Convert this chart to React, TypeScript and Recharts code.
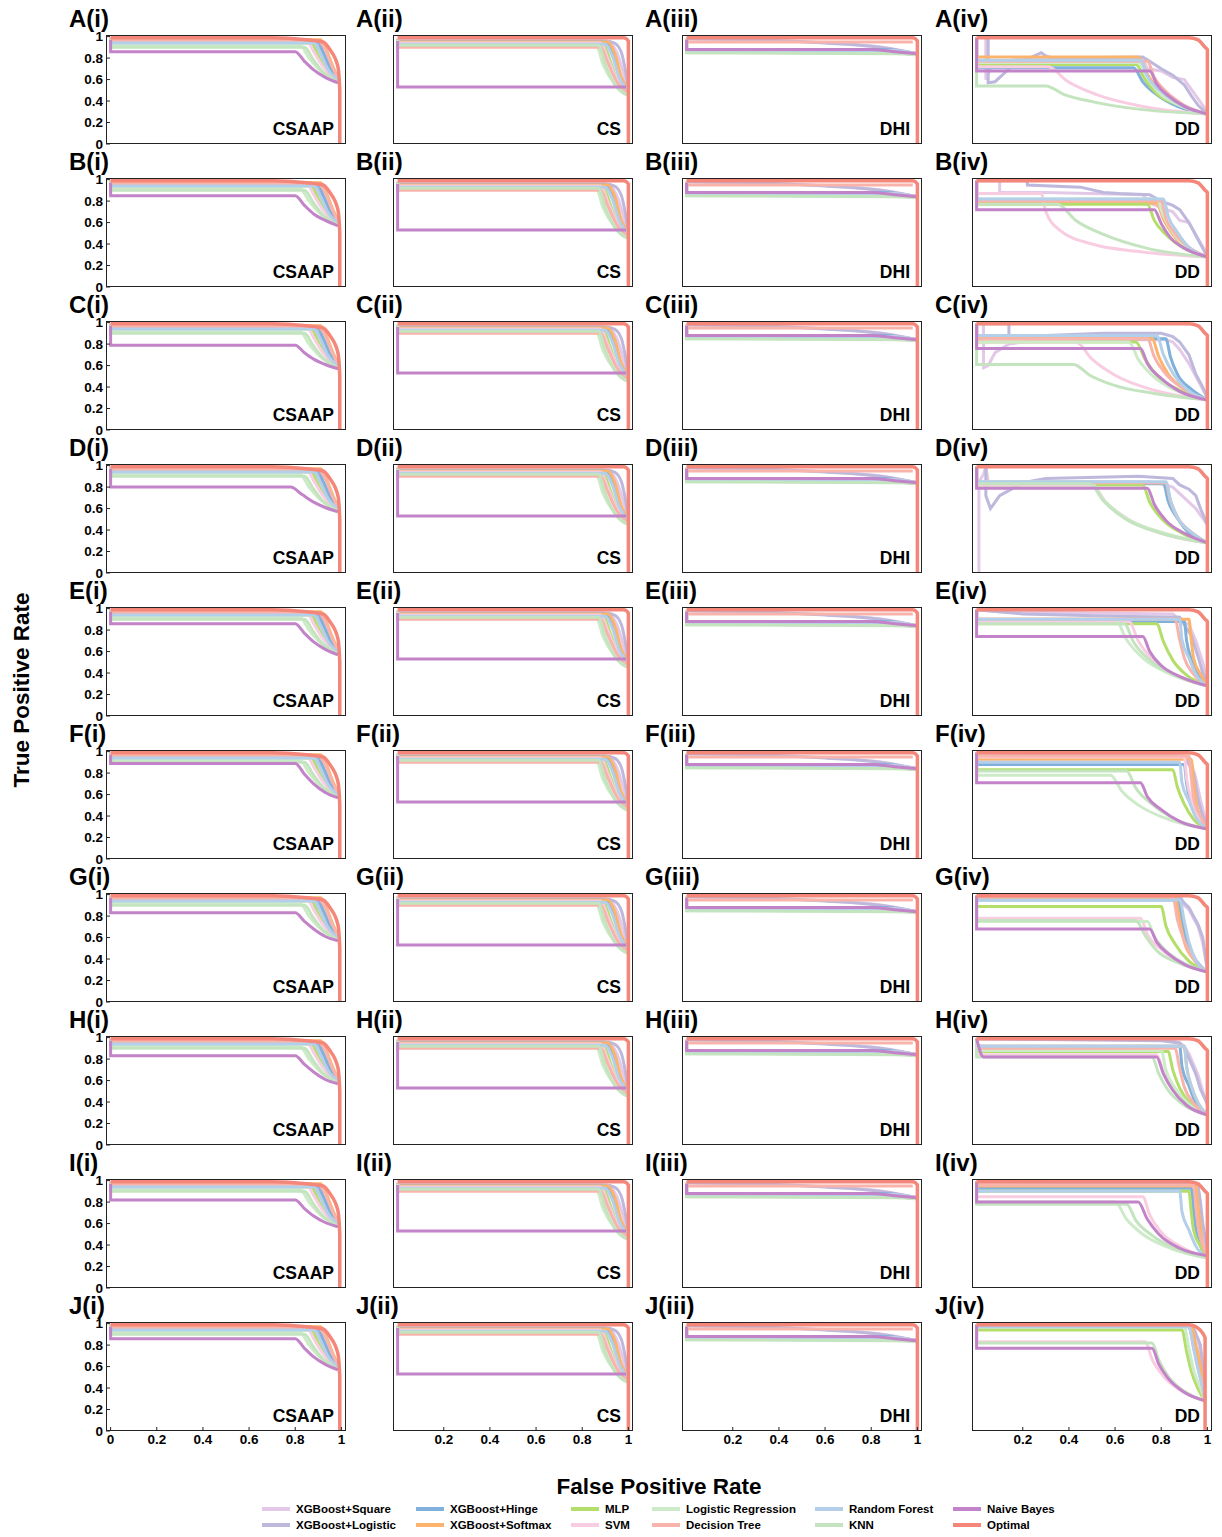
import { LineChart, Line, XAxis, YAxis } from 'recharts';

const FONT = 'Arial, "Liberation Sans", Helvetica, sans-serif';

const MODELS = [
  'XGBoost+Square', 'XGBoost+Logistic', 'XGBoost+Hinge', 'XGBoost+Softmax', 'MLP', 'SVM',
  'Logistic Regression', 'Decision Tree', 'Random Forest', 'KNN', 'Naive Bayes', 'Optimal',
];
const COLORS = [
  '#e3c8e7', '#bdb8dc', '#7fb1dc', '#fcb46c', '#b4de6a', '#f9cde1',
  '#cdebc8', '#f8b3aa', '#b4cfe9', '#c4e4bf', '#c283c9', '#f4867a',
];
const ROWS = ['A', 'B', 'C', 'D', 'E', 'F', 'G', 'H', 'I', 'J'];
const COLS = ['i', 'ii', 'iii', 'iv'];
const DATASETS = ['CSAAP', 'CS', 'DHI', 'DD'];
const Y_TICKS = [0, 0.2, 0.4, 0.6, 0.8, 1];
const X_TICKS_FIRST = [0, 0.2, 0.4, 0.6, 0.8, 1];
const X_TICKS_OTHER = [0.2, 0.4, 0.6, 0.8, 1];

type Pt = [number, number];

// ---- CSAAP column (shared pastel curves, per-row naive bayes)
const CSAAP_BASE: Pt[][] = [
  [[0, 0.99], [0, 0.97], [0.86, 0.97], [0.89, 0.93], [0.92, 0.84], [0.95, 0.72], [0.985, 0.6]],
  [[0, 0.99], [0, 0.96], [0.88, 0.96], [0.9, 0.9], [0.92, 0.82], [0.95, 0.7], [0.985, 0.6]],
  [[0, 0.98], [0, 0.95], [0.9, 0.95], [0.92, 0.86], [0.95, 0.72], [0.985, 0.6]],
  [[0, 0.98], [0, 0.97], [0.91, 0.97], [0.93, 0.9], [0.96, 0.74], [0.985, 0.61]],
  [[0, 0.98], [0, 0.94], [0.87, 0.94], [0.9, 0.82], [0.93, 0.7], [0.985, 0.59]],
  [[0, 0.98], [0, 0.96], [0.85, 0.96], [0.88, 0.86], [0.92, 0.72], [0.985, 0.6]],
  [[0, 0.98], [0, 0.92], [0.82, 0.92], [0.86, 0.8], [0.91, 0.68], [0.985, 0.58]],
  [[0, 0.99], [0, 0.96], [0.9, 0.96], [0.93, 0.88], [0.96, 0.72], [0.985, 0.62]],
  [[0, 0.98], [0, 0.94], [0.88, 0.94], [0.91, 0.84], [0.94, 0.7], [0.985, 0.6]],
  [[0, 0.98], [0, 0.9], [0.84, 0.9], [0.88, 0.78], [0.92, 0.67], [0.985, 0.58]],
];
const CSAAP_NB: Pt[][] = [
  [[0, 0.97], [0, 0.86], [0.8, 0.86], [0.84, 0.77], [0.88, 0.69], [0.93, 0.62], [0.985, 0.57]],
  [[0, 0.97], [0, 0.85], [0.8, 0.85], [0.84, 0.76], [0.88, 0.68], [0.93, 0.62], [0.985, 0.57]],
  [[0, 0.97], [0, 0.79], [0.8, 0.79], [0.84, 0.72], [0.88, 0.66], [0.93, 0.61], [0.985, 0.57]],
  [[0, 0.97], [0, 0.8], [0.78, 0.8], [0.83, 0.73], [0.88, 0.66], [0.93, 0.61], [0.985, 0.57]],
  [[0, 0.97], [0, 0.86], [0.8, 0.86], [0.84, 0.77], [0.88, 0.69], [0.93, 0.62], [0.985, 0.57]],
  [[0, 0.97], [0, 0.89], [0.8, 0.89], [0.84, 0.79], [0.88, 0.7], [0.93, 0.62], [0.985, 0.57]],
  [[0, 0.97], [0, 0.83], [0.8, 0.83], [0.84, 0.75], [0.88, 0.68], [0.93, 0.61], [0.985, 0.57]],
  [[0, 0.97], [0, 0.83], [0.8, 0.83], [0.84, 0.75], [0.88, 0.68], [0.93, 0.61], [0.985, 0.57]],
  [[0, 0.97], [0, 0.82], [0.8, 0.82], [0.84, 0.74], [0.88, 0.67], [0.93, 0.61], [0.985, 0.57]],
  [[0, 0.97], [0, 0.86], [0.8, 0.86], [0.84, 0.77], [0.88, 0.69], [0.93, 0.62], [0.985, 0.57]],
];
const OPT_CSAAP: Pt[] = [[0, 0.99], [0.7, 0.99], [0.85, 0.97], [0.92, 0.95], [0.95, 0.88], [0.985, 0.72], [0.993, 0.5], [0.993, 0]];

// ---- CS column
const CS_BASE: Pt[][] = [
  [[0, 0.98], [0, 0.96], [0.88, 0.96], [0.92, 0.94], [0.95, 0.85], [0.98, 0.65], [1, 0.5]],
  [[0, 0.98], [0, 0.96], [0.9, 0.96], [0.94, 0.94], [0.97, 0.85], [0.99, 0.65], [1, 0.52]],
  [[0, 0.97], [0, 0.95], [0.9, 0.95], [0.93, 0.85], [0.96, 0.65], [1, 0.5]],
  [[0, 0.97], [0, 0.95], [0.91, 0.95], [0.94, 0.85], [0.97, 0.62], [1, 0.5]],
  [[0, 0.97], [0, 0.93], [0.89, 0.93], [0.92, 0.78], [0.95, 0.6], [1, 0.48]],
  [[0, 0.97], [0, 0.94], [0.88, 0.94], [0.91, 0.8], [0.95, 0.6], [1, 0.48]],
  [[0, 0.97], [0, 0.92], [0.86, 0.92], [0.89, 0.74], [0.94, 0.56], [1, 0.46]],
  [[0, 0.97], [0, 0.9], [0.88, 0.9], [0.91, 0.76], [0.95, 0.58], [1, 0.48]],
  [[0, 0.97], [0, 0.93], [0.9, 0.93], [0.93, 0.82], [0.96, 0.62], [1, 0.5]],
  [[0, 0.97], [0, 0.92], [0.87, 0.92], [0.9, 0.74], [0.94, 0.56], [1, 0.45]],
];
const CS_NB: Pt[] = [[0, 0.96], [0, 0.53], [0.99, 0.53]];
const OPT_CS: Pt[] = [[0, 0.99], [0.98, 0.99], [1, 0.96], [1, 0]];

// ---- DHI column
const DHI_BASE: Pt[][] = [
  [[0, 0.98], [0.4, 0.96], [0.7, 0.93], [0.85, 0.9], [1, 0.84]],
  [[0, 0.98], [0.3, 0.97], [0.6, 0.94], [0.8, 0.91], [0.9, 0.88], [1, 0.84]],
  [[0, 0.98], [0, 0.88], [0.85, 0.88], [1, 0.84]],
  [[0, 0.98], [0, 0.87], [0.85, 0.87], [1, 0.84]],
  [[0, 0.97], [0, 0.86], [0.9, 0.86], [1, 0.84]],
  [[0, 0.97], [0, 0.88], [0.88, 0.87], [1, 0.84]],
  [[0, 0.97], [0, 0.85], [0.9, 0.85], [1, 0.84]],
  [[0, 0.97], [0, 0.95], [0.98, 0.95]],
  [[0, 0.97], [0, 0.87], [0.88, 0.87], [1, 0.84]],
  [[0, 0.97], [0, 0.85], [0.9, 0.84], [1, 0.83]],
];
const DHI_NB: Pt[] = [[0, 0.97], [0, 0.88], [0.8, 0.88], [0.9, 0.86], [1, 0.84]];

// ---- DD column, one list per row (Square .. Naive Bayes)
const DD_A: Pt[][] = [
  [[0.04, 0.99], [0.04, 0.6], [0.06, 0.7], [0.1, 0.76], [0.2, 0.8], [0.72, 0.8], [0.74, 0.7], [0.8, 0.68], [0.85, 0.62], [0.9, 0.6], [0.95, 0.45], [1, 0.3]],
  [[0.05, 0.99], [0.05, 0.57], [0.08, 0.58], [0.15, 0.72], [0.28, 0.85], [0.3, 0.82], [0.33, 0.8], [0.72, 0.81], [0.75, 0.77], [0.8, 0.7], [0.85, 0.64], [0.9, 0.55], [0.93, 0.45], [0.96, 0.36], [1, 0.28]],
  [[0, 0.99], [0, 0.71], [0.68, 0.71], [0.72, 0.58], [0.78, 0.46], [0.87, 0.35], [1, 0.28]],
  [[0, 0.99], [0, 0.81], [0.7, 0.81], [0.74, 0.65], [0.79, 0.5], [0.88, 0.37], [1, 0.28]],
  [[0, 0.99], [0, 0.74], [0.69, 0.74], [0.73, 0.6], [0.78, 0.47], [0.88, 0.36], [1, 0.28]],
  [[0, 0.99], [0, 0.72], [0.31, 0.72], [0.39, 0.59], [0.52, 0.46], [0.72, 0.35], [1, 0.28]],
  [[0, 0.99], [0, 0.76], [0.7, 0.76], [0.74, 0.62], [0.79, 0.48], [0.88, 0.36], [1, 0.28]],
  [[0, 0.99], [0, 0.77], [0.74, 0.77], [0.77, 0.62], [0.82, 0.49], [0.9, 0.36], [1, 0.28]],
  [[0, 0.99], [0, 0.78], [0.71, 0.78], [0.74, 0.63], [0.8, 0.49], [0.88, 0.37], [1, 0.28]],
  [[0, 0.8], [0, 0.54], [0.3, 0.54], [0.38, 0.46], [0.51, 0.39], [0.72, 0.32], [1, 0.28]],
  [[0, 0.99], [0, 0.68], [0.75, 0.68], [0.78, 0.56], [0.83, 0.45], [0.9, 0.35], [1, 0.28]],
];
const DD_B: Pt[][] = [
  [[0.1, 0.99], [0.1, 0.88], [0.3, 0.88], [0.72, 0.86], [0.75, 0.78], [0.8, 0.74], [0.85, 0.7], [0.88, 0.62], [0.92, 0.6], [0.96, 0.45], [1, 0.3]],
  [[0, 0.99], [0.22, 0.99], [0.22, 0.95], [0.45, 0.93], [0.55, 0.88], [0.62, 0.87], [0.75, 0.86], [0.8, 0.8], [0.85, 0.76], [0.88, 0.72], [0.92, 0.6], [0.95, 0.48], [0.98, 0.36], [1, 0.28]],
  [[0, 0.99], [0, 0.8], [0.78, 0.8], [0.81, 0.64], [0.85, 0.5], [0.91, 0.37], [1, 0.28]],
  [[0, 0.99], [0, 0.78], [0.78, 0.78], [0.81, 0.63], [0.85, 0.49], [0.91, 0.36], [1, 0.28]],
  [[0, 0.99], [0, 0.77], [0.74, 0.77], [0.77, 0.62], [0.82, 0.49], [0.9, 0.36], [1, 0.28]],
  [[0, 0.99], [0, 0.87], [0.28, 0.87], [0.3, 0.7], [0.36, 0.53], [0.5, 0.4], [0.7, 0.33], [1, 0.28]],
  [[0, 0.99], [0, 0.82], [0.78, 0.82], [0.81, 0.66], [0.85, 0.51], [0.91, 0.37], [1, 0.28]],
  [[0, 0.99], [0, 0.8], [0.8, 0.8], [0.82, 0.64], [0.86, 0.5], [0.92, 0.37], [1, 0.28]],
  [[0, 0.99], [0, 0.82], [0.81, 0.82], [0.83, 0.66], [0.87, 0.51], [0.92, 0.37], [1, 0.28]],
  [[0, 0.99], [0, 0.77], [0.35, 0.77], [0.43, 0.62], [0.55, 0.49], [0.74, 0.36], [1, 0.28]],
  [[0, 0.99], [0, 0.72], [0.77, 0.72], [0.8, 0.59], [0.84, 0.46], [0.91, 0.35], [1, 0.28]],
];
const DD_C: Pt[][] = [
  [[0.03, 0.99], [0.03, 0.58], [0.05, 0.6], [0.08, 0.72], [0.14, 0.8], [0.2, 0.82], [0.5, 0.84], [0.82, 0.84], [0.85, 0.82], [0.88, 0.75], [0.92, 0.62], [0.95, 0.5], [0.98, 0.38], [1, 0.3]],
  [[0, 0.99], [0.14, 0.99], [0.14, 0.88], [0.3, 0.88], [0.55, 0.9], [0.8, 0.9], [0.85, 0.87], [0.88, 0.82], [0.92, 0.7], [0.95, 0.52], [0.98, 0.4], [1, 0.3]],
  [[0, 0.99], [0, 0.85], [0.82, 0.85], [0.84, 0.68], [0.87, 0.52], [0.93, 0.38], [1, 0.28]],
  [[0, 0.99], [0, 0.85], [0.76, 0.85], [0.79, 0.68], [0.83, 0.52], [0.9, 0.38], [1, 0.28]],
  [[0, 0.99], [0, 0.82], [0.69, 0.82], [0.73, 0.66], [0.78, 0.51], [0.88, 0.37], [1, 0.28]],
  [[0, 0.99], [0, 0.82], [0.43, 0.82], [0.5, 0.66], [0.6, 0.51], [0.77, 0.37], [1, 0.28]],
  [[0, 0.99], [0, 0.82], [0.66, 0.82], [0.7, 0.66], [0.76, 0.51], [0.86, 0.37], [1, 0.28]],
  [[0, 0.99], [0, 0.85], [0.74, 0.85], [0.77, 0.68], [0.82, 0.52], [0.9, 0.38], [1, 0.28]],
  [[0, 0.99], [0, 0.88], [0.78, 0.88], [0.81, 0.7], [0.85, 0.53], [0.91, 0.38], [1, 0.28]],
  [[0, 0.8], [0, 0.61], [0.42, 0.61], [0.49, 0.51], [0.59, 0.42], [0.77, 0.34], [1, 0.28]],
  [[0, 0.99], [0, 0.76], [0.71, 0.76], [0.74, 0.62], [0.8, 0.48], [0.88, 0.36], [1, 0.28]],
];
const DD_D: Pt[][] = [
  [[0.01, 0], [0.01, 0.85], [0.03, 0.92], [0.04, 0.99], [0.05, 0.85], [0.75, 0.85], [0.8, 0.83], [0.85, 0.8], [0.9, 0.7], [0.95, 0.6], [1, 0.45]],
  [[0.04, 0.99], [0.04, 0.72], [0.06, 0.6], [0.1, 0.72], [0.2, 0.84], [0.3, 0.88], [0.7, 0.9], [0.85, 0.88], [0.88, 0.82], [0.92, 0.78], [0.95, 0.72], [0.97, 0.6], [0.99, 0.5], [1, 0.45]],
  [[0, 0.99], [0, 0.83], [0.81, 0.83], [0.83, 0.67], [0.87, 0.51], [0.92, 0.37], [1, 0.28]],
  [[0, 0.99], [0, 0.84], [0.82, 0.84], [0.84, 0.67], [0.87, 0.52], [0.93, 0.38], [1, 0.28]],
  [[0, 0.99], [0, 0.82], [0.72, 0.82], [0.75, 0.66], [0.8, 0.51], [0.89, 0.37], [1, 0.28]],
  [[0, 0.99], [0, 0.82], [0.5, 0.82], [0.56, 0.66], [0.65, 0.51], [0.8, 0.37], [1, 0.28]],
  [[0, 0.99], [0, 0.85], [0.49, 0.85], [0.55, 0.68], [0.64, 0.52], [0.8, 0.38], [1, 0.28]],
  [[0, 0.99], [0, 0.84], [0.82, 0.84], [0.84, 0.67], [0.87, 0.52], [0.93, 0.38], [1, 0.28]],
  [[0, 0.99], [0, 0.85], [0.82, 0.85], [0.84, 0.68], [0.87, 0.52], [0.93, 0.38], [1, 0.28]],
  [[0, 0.99], [0, 0.83], [0.49, 0.83], [0.55, 0.67], [0.64, 0.51], [0.8, 0.37], [1, 0.28]],
  [[0, 0.99], [0, 0.79], [0.74, 0.79], [0.77, 0.64], [0.82, 0.49], [0.9, 0.37], [1, 0.28]],
];
const DD_E: Pt[][] = [
  [[0, 0.99], [0.1, 0.97], [0.5, 0.96], [0.85, 0.95], [0.88, 0.9], [0.92, 0.85], [0.95, 0.7], [0.98, 0.5], [1, 0.3]],
  [[0, 0.99], [0.2, 0.95], [0.6, 0.93], [0.88, 0.92], [0.9, 0.85], [0.93, 0.75], [0.96, 0.55], [0.98, 0.4], [1, 0.3]],
  [[0, 0.99], [0, 0.88], [0.9, 0.88], [0.91, 0.7], [0.93, 0.53], [0.96, 0.38], [1, 0.28]],
  [[0, 0.99], [0, 0.9], [0.92, 0.9], [0.93, 0.71], [0.94, 0.54], [0.97, 0.39], [1, 0.28]],
  [[0, 0.99], [0, 0.86], [0.78, 0.86], [0.81, 0.69], [0.85, 0.52], [0.91, 0.38], [1, 0.28]],
  [[0, 0.99], [0, 0.88], [0.66, 0.88], [0.7, 0.7], [0.76, 0.53], [0.86, 0.38], [1, 0.28]],
  [[0, 0.99], [0, 0.9], [0.6, 0.9], [0.65, 0.71], [0.72, 0.54], [0.84, 0.39], [1, 0.28]],
  [[0, 0.99], [0, 0.9], [0.86, 0.9], [0.88, 0.71], [0.9, 0.54], [0.94, 0.39], [1, 0.28]],
  [[0, 0.99], [0, 0.9], [0.88, 0.9], [0.89, 0.71], [0.92, 0.54], [0.95, 0.39], [1, 0.28]],
  [[0, 0.99], [0, 0.86], [0.64, 0.86], [0.68, 0.69], [0.75, 0.52], [0.86, 0.38], [1, 0.28]],
  [[0, 0.99], [0, 0.74], [0.72, 0.74], [0.75, 0.6], [0.8, 0.47], [0.89, 0.36], [1, 0.28]],
];
const DD_F: Pt[][] = [
  [[0, 0.99], [0.85, 0.98], [0.9, 0.96], [0.93, 0.9], [0.95, 0.75], [0.97, 0.55], [1, 0.3]],
  [[0, 0.99], [0.8, 0.97], [0.9, 0.95], [0.92, 0.88], [0.94, 0.8], [0.96, 0.55], [0.98, 0.4], [1, 0.3]],
  [[0, 0.99], [0, 0.88], [0.9, 0.88], [0.91, 0.7], [0.93, 0.53], [0.96, 0.38], [1, 0.28]],
  [[0, 0.99], [0, 0.93], [0.93, 0.93], [0.94, 0.73], [0.95, 0.55], [0.97, 0.39], [1, 0.28]],
  [[0, 0.99], [0, 0.83], [0.85, 0.83], [0.87, 0.67], [0.9, 0.51], [0.94, 0.37], [1, 0.28]],
  [[0, 0.99], [0, 0.95], [0.9, 0.95], [0.91, 0.75], [0.93, 0.56], [0.96, 0.39], [1, 0.28]],
  [[0, 0.99], [0, 0.78], [0.58, 0.78], [0.63, 0.63], [0.71, 0.49], [0.83, 0.37], [1, 0.28]],
  [[0, 0.99], [0, 0.96], [0.92, 0.96], [0.93, 0.76], [0.94, 0.57], [0.97, 0.4], [1, 0.28]],
  [[0, 0.99], [0, 0.9], [0.88, 0.9], [0.89, 0.71], [0.92, 0.54], [0.95, 0.39], [1, 0.28]],
  [[0, 0.99], [0, 0.82], [0.65, 0.82], [0.69, 0.66], [0.76, 0.51], [0.86, 0.37], [1, 0.28]],
  [[0, 0.99], [0, 0.71], [0.71, 0.71], [0.74, 0.58], [0.8, 0.46], [0.88, 0.35], [1, 0.28]],
];
const DD_G: Pt[][] = [
  [[0, 0.99], [0.88, 0.97], [0.9, 0.9], [0.92, 0.86], [0.94, 0.78], [0.96, 0.7], [0.98, 0.55], [1, 0.3]],
  [[0, 0.99], [0.88, 0.98], [0.9, 0.92], [0.92, 0.88], [0.94, 0.8], [0.96, 0.72], [0.98, 0.6], [1, 0.3]],
  [[0, 0.99], [0, 0.95], [0.87, 0.95], [0.89, 0.75], [0.91, 0.56], [0.95, 0.39], [1, 0.28]],
  [[0, 0.99], [0, 0.97], [0.86, 0.97], [0.88, 0.76], [0.9, 0.56], [0.94, 0.4], [1, 0.28]],
  [[0, 0.99], [0, 0.89], [0.8, 0.89], [0.82, 0.71], [0.86, 0.54], [0.92, 0.38], [1, 0.28]],
  [[0, 0.99], [0, 0.78], [0.71, 0.78], [0.74, 0.63], [0.8, 0.49], [0.88, 0.37], [1, 0.28]],
  [[0, 0.99], [0, 0.75], [0.74, 0.75], [0.77, 0.61], [0.82, 0.48], [0.9, 0.36], [1, 0.28]],
  [[0, 0.99], [0, 0.98], [0.85, 0.98], [0.87, 0.77], [0.9, 0.57], [0.94, 0.4], [1, 0.28]],
  [[0, 0.99], [0, 0.95], [0.88, 0.95], [0.9, 0.75], [0.92, 0.56], [0.95, 0.39], [1, 0.28]],
  [[0, 0.99], [0, 0.76], [0.69, 0.76], [0.73, 0.62], [0.78, 0.48], [0.88, 0.36], [1, 0.28]],
  [[0, 0.99], [0, 0.68], [0.75, 0.68], [0.78, 0.56], [0.83, 0.45], [0.9, 0.35], [1, 0.28]],
];
const DD_H: Pt[][] = [
  [[0, 0.99], [0.75, 0.98], [0.85, 0.97], [0.88, 0.95], [0.9, 0.92], [0.92, 0.85], [0.94, 0.75], [0.96, 0.65], [0.98, 0.5], [1, 0.38]],
  [[0, 0.99], [0.8, 0.97], [0.88, 0.95], [0.9, 0.9], [0.93, 0.76], [0.95, 0.66], [0.97, 0.52], [1, 0.38]],
  [[0, 0.99], [0, 0.92], [0.88, 0.92], [0.89, 0.73], [0.92, 0.55], [0.95, 0.39], [1, 0.28]],
  [[0, 0.99], [0, 0.92], [0.9, 0.92], [0.91, 0.73], [0.93, 0.55], [0.96, 0.39], [1, 0.28]],
  [[0, 0.99], [0, 0.87], [0.83, 0.87], [0.85, 0.7], [0.88, 0.53], [0.93, 0.38], [1, 0.28]],
  [[0, 0.99], [0, 0.84], [0.78, 0.84], [0.81, 0.68], [0.85, 0.52], [0.91, 0.38], [1, 0.28]],
  [[0, 0.99], [0, 0.88], [0.8, 0.88], [0.82, 0.7], [0.86, 0.53], [0.92, 0.38], [1, 0.28]],
  [[0, 0.99], [0, 0.9], [0.86, 0.9], [0.88, 0.71], [0.9, 0.54], [0.94, 0.39], [1, 0.28]],
  [[0, 0.99], [0, 0.92], [0.9, 0.92], [0.91, 0.73], [0.93, 0.55], [0.96, 0.39], [1, 0.28]],
  [[0, 0.99], [0, 0.82], [0.76, 0.82], [0.79, 0.66], [0.83, 0.51], [0.9, 0.37], [1, 0.28]],
  [[0, 0.99], [0.03, 0.82], [0.78, 0.82], [0.81, 0.66], [0.85, 0.51], [0.91, 0.37], [1, 0.28]],
];
const DD_I: Pt[][] = [
  [[0, 0.99], [0.9, 0.98], [0.95, 0.97], [0.96, 0.85], [0.97, 0.7], [0.98, 0.5], [1, 0.35]],
  [[0, 0.99], [0.9, 0.97], [0.96, 0.95], [0.97, 0.8], [0.98, 0.6], [1, 0.35]],
  [[0, 0.99], [0, 0.93], [0.93, 0.93], [0.94, 0.73], [0.95, 0.55], [0.97, 0.39], [1, 0.28]],
  [[0, 0.99], [0, 0.95], [0.95, 0.95], [0.96, 0.75], [0.97, 0.56], [0.98, 0.39], [1, 0.28]],
  [[0, 0.99], [0, 0.9], [0.92, 0.9], [0.93, 0.71], [0.94, 0.54], [0.97, 0.39], [1, 0.28]],
  [[0, 0.99], [0, 0.85], [0.72, 0.85], [0.75, 0.68], [0.8, 0.52], [0.89, 0.38], [1, 0.28]],
  [[0, 0.99], [0, 0.8], [0.6, 0.8], [0.65, 0.64], [0.72, 0.5], [0.84, 0.37], [1, 0.28]],
  [[0, 0.99], [0, 0.96], [0.94, 0.96], [0.95, 0.76], [0.96, 0.57], [0.98, 0.4], [1, 0.28]],
  [[0, 0.99], [0, 0.9], [0.88, 0.9], [0.89, 0.71], [0.92, 0.54], [0.95, 0.39], [1, 0.28]],
  [[0, 0.99], [0, 0.78], [0.65, 0.78], [0.69, 0.63], [0.76, 0.49], [0.86, 0.37], [1, 0.28]],
  [[0, 0.99], [0, 0.8], [0.7, 0.8], [0.74, 0.64], [0.79, 0.5], [0.88, 0.37], [1, 0.3]],
];
const DD_J: Pt[][] = [
  [[0, 0.99], [0.9, 0.98], [0.93, 0.97], [0.96, 0.85], [0.98, 0.6], [0.99, 0.35]],
  [[0, 0.99], [0.9, 0.98], [0.94, 0.96], [0.97, 0.8], [0.99, 0.4]],
  [[0, 0.99], [0, 0.97], [0.92, 0.97], [0.94, 0.8], [0.96, 0.6], [0.98, 0.4], [0.99, 0.29]],
  [[0, 0.99], [0, 0.98], [0.93, 0.98], [0.95, 0.8], [0.97, 0.6], [0.98, 0.42], [0.99, 0.3]],
  [[0, 0.99], [0, 0.94], [0.89, 0.94], [0.91, 0.74], [0.93, 0.56], [0.96, 0.39], [0.99, 0.28]],
  [[0, 0.99], [0, 0.83], [0.73, 0.83], [0.76, 0.67], [0.81, 0.51], [0.89, 0.37], [0.99, 0.28]],
  [[0, 0.99], [0, 0.97], [0.9, 0.97], [0.92, 0.77], [0.94, 0.57], [0.97, 0.4], [0.99, 0.28]],
  [[0, 0.99], [0, 0.98], [0.92, 0.98], [0.94, 0.78], [0.96, 0.58], [0.98, 0.4], [0.99, 0.28]],
  [[0, 0.99], [0, 0.97], [0.92, 0.97], [0.94, 0.77], [0.96, 0.57], [0.98, 0.4], [0.99, 0.28]],
  [[0, 0.99], [0, 0.82], [0.76, 0.82], [0.79, 0.66], [0.83, 0.51], [0.9, 0.37], [0.99, 0.28]],
  [[0, 0.99], [0, 0.77], [0.76, 0.77], [0.79, 0.62], [0.83, 0.49], [0.9, 0.36], [0.99, 0.28]],
];
const DD_ROWS = [DD_A, DD_B, DD_C, DD_D, DD_E, DD_F, DD_G, DD_H, DD_I, DD_J];
const OPT_DD: Pt[] = [[0, 0.99], [0.92, 0.99], [0.96, 0.97], [0.99, 0.9], [1, 0.88], [1, 0]];
const OPT_DD_J: Pt[] = [[0, 0.99], [0.92, 0.99], [0.95, 0.97], [0.99, 0.87], [0.99, 0]];

// layout
const BOX_LEFT = [106, 393, 682, 972];
const BOX_W = 240;
const BOX_H = 109;
const TOP0 = 35;
const ROW_STEP = 143;
const Y_AXIS_W = 30;
const M_TOP = 10;

function panelSeries(r: number, c: number): Pt[][] {
  if (c === 0) return [...CSAAP_BASE, CSAAP_NB[r], OPT_CSAAP];
  if (c === 1) return [...CS_BASE, CS_NB, OPT_CS];
  if (c === 2) return [...DHI_BASE, DHI_NB, OPT_CS];
  return [...DD_ROWS[r], r === 9 ? OPT_DD_J : OPT_DD];
}

const fmt = (v: number) => (v === 0 ? '0' : v === 1 ? '1' : String(v));
const tickStyle = { fill: '#000', fontSize: 13.5, fontWeight: 700, fontFamily: FONT };

function Panel({ r, c }: { r: number; c: number }) {
  const left = BOX_LEFT[c];
  const top = TOP0 + r * ROW_STEP;
  const series = panelSeries(r, c);
  return (
    <>
      <div
        style={{
          position: 'absolute', left: left - 37, top: top - 26, fontSize: 24, fontWeight: 700,
          fontFamily: FONT, lineHeight: '19px', color: '#000',
        }}
      >
        {ROWS[r]}({COLS[c]})
      </div>
      <div style={{ position: 'absolute', left: left - Y_AXIS_W, top: top - M_TOP }}>
        <LineChart width={Y_AXIS_W + BOX_W + 5} height={M_TOP + BOX_H + 24} margin={{ top: M_TOP, right: 5, bottom: 0, left: 0 }}>
          <XAxis
            type="number"
            dataKey="x"
            domain={[-0.02, 1.02]}
            allowDataOverflow
            ticks={c === 0 ? X_TICKS_FIRST : X_TICKS_OTHER}
            interval={0}
            tickFormatter={fmt}
            tick={r === 9 ? tickStyle : false}
            tickSize={-4}
            tickMargin={7}
            axisLine={false}
            tickLine={{ stroke: '#222', strokeWidth: 1 }}
            height={24}
          />
          <YAxis
            type="number"
            domain={[0, 1.015]}
            allowDataOverflow
            ticks={Y_TICKS}
            interval={0}
            tickFormatter={fmt}
            tick={c === 0 ? tickStyle : false}
            tickSize={-4}
            tickMargin={7}
            axisLine={false}
            tickLine={{ stroke: '#222', strokeWidth: 1 }}
            width={Y_AXIS_W}
          />
          {series.map((pts, i) => (
            <Line
              key={i}
              data={pts.map(([x, y]) => ({ x, y }))}
              dataKey="y"
              type={c === 3 && i < 2 ? 'linear' : 'monotone'}
              stroke={COLORS[i]}
              strokeWidth={i === 11 ? 3.5 : 3}
              dot={false}
              activeDot={false}
              isAnimationActive={false}
            />
          ))}
        </LineChart>
      </div>
      <div
        style={{
          position: 'absolute', left, top, width: BOX_W, height: BOX_H, boxSizing: 'border-box',
          border: '1px solid #222', pointerEvents: 'none',
        }}
      />
      <div
        style={{
          position: 'absolute', left, top: top + BOX_H - 25, width: BOX_W - 12, textAlign: 'right',
          fontSize: 17.5, fontWeight: 700, fontFamily: FONT, lineHeight: '20px', color: '#000',
        }}
      >
        {DATASETS[c]}
      </div>
    </>
  );
}

const LEGEND_X = [262, 416, 571, 652, 815, 953];

export default function App() {
  return (
    <div style={{ position: 'absolute', left: 0, top: 0, width: 1222, height: 1537, background: '#fff', fontFamily: FONT }}>
      {ROWS.map((_, r) => COLS.map((__, c) => <Panel key={`${r}-${c}`} r={r} c={c} />))}
      <div
        style={{
          position: 'absolute', left: 22 - 150, top: 690 - 14, width: 300, textAlign: 'center',
          transform: 'rotate(-90deg)', fontSize: 22.5, fontWeight: 700, lineHeight: '28px',
        }}
      >
        True Positive Rate
      </div>
      <div
        style={{
          position: 'absolute', left: 509, top: 1473, width: 300, textAlign: 'center',
          fontSize: 22.5, fontWeight: 700, lineHeight: '28px',
        }}
      >
        False Positive Rate
      </div>
      {MODELS.map((m, i) => {
        const col = Math.floor(i / 2);
        const y = i % 2 === 0 ? 1509 : 1525;
        return (
          <div key={m} style={{ position: 'absolute', left: LEGEND_X[col], top: y - 8, height: 16, display: 'flex', alignItems: 'center' }}>
            <div style={{ width: 28, height: 4, background: COLORS[i] }} />
            <span style={{ marginLeft: 6, fontSize: 11.5, fontWeight: 700, whiteSpace: 'nowrap' }}>{m}</span>
          </div>
        );
      })}
    </div>
  );
}
